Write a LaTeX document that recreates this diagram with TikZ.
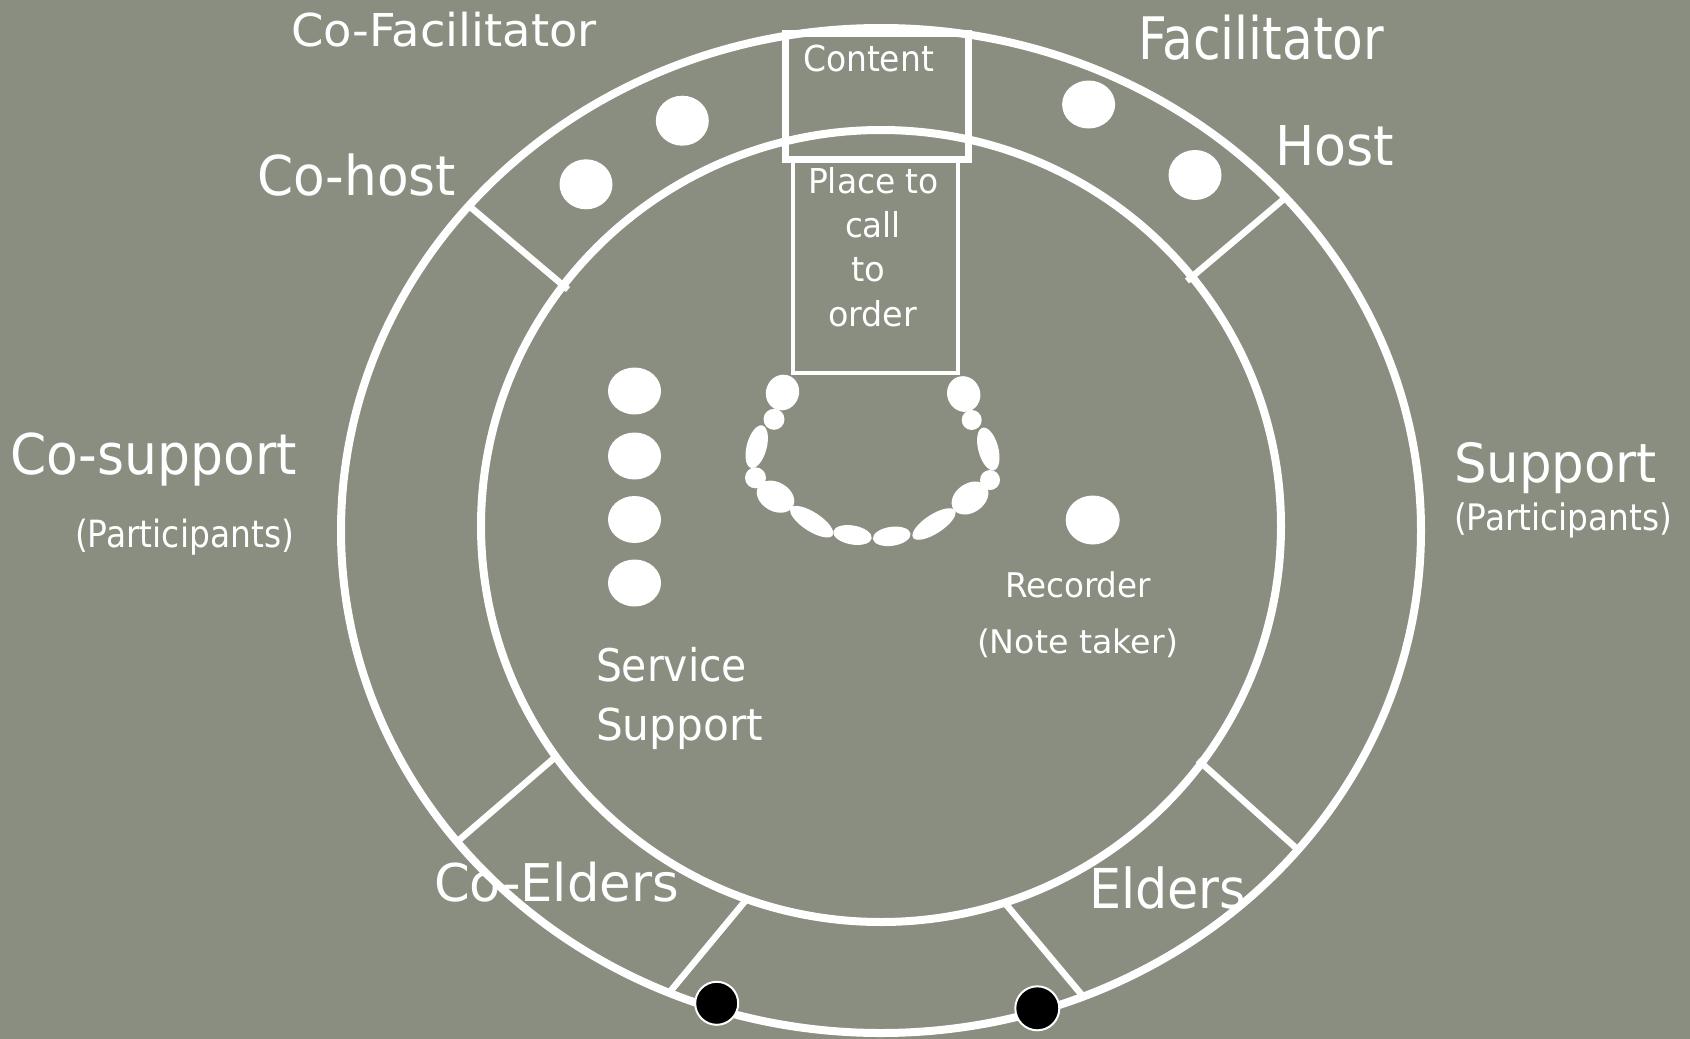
\documentclass[tikz,border=0pt]{standalone}
\usepackage{fontspec}
\setmainfont{DejaVu Sans}
\usepackage{graphicx}
\definecolor{bg}{RGB}{137,142,128}
\newcommand\lbl[3]{\resizebox{#1pt}{\height}{\fontsize{#2pt}{#2pt}\selectfont #3}}
\begin{document}
\begin{tikzpicture}[x=1pt,y=-1pt,
  ring/.style={draw=white, line width=8pt},
  divider/.style={draw=white, line width=6.5pt},
  seat/.style={fill=white},
  elder/.style={fill=black, draw=white, line width=2pt},
  lab/.style={anchor=base west, text=white, inner sep=0pt, outer sep=0pt}]
\useasboundingbox (0,0) rectangle (1690,1039);
\fill[bg] (0,0) rectangle (1690,1039);

% rings
\draw[ring] (881,530.5) ellipse [x radius=540pt, y radius=502.5pt];
\draw[ring] (881,526) ellipse [x radius=400pt, y radius=396pt];

% dividers
\draw[divider] (470,206.7) -- (568,289.5);
\draw[divider] (1284.7,198.3) -- (1187,281);
\draw[divider] (457,841.8) -- (556,756.5);
\draw[divider] (1298.7,850.4) -- (1198,760);
\draw[divider] (670,991.7) -- (746,900);
\draw[divider] (1083.3,996.7) -- (1004,902);

% boxes
\draw[white, line width=7pt] (785,33) rectangle (968,159);
\draw[white, line width=4.5pt] (793,160) rectangle (958,373);

% seats in outer ring
\fill[seat] (682.3,120.7) ellipse [x radius=26.5pt, y radius=25pt];
\fill[seat] (586,184.3) ellipse [x radius=26.5pt, y radius=25pt];
\fill[seat] (1088.6,104.5) ellipse [x radius=26.5pt, y radius=24pt];
\fill[seat] (1195,175) ellipse [x radius=26.5pt, y radius=25pt];

% service support seats
\foreach \yy in {391,456,519.5,583}
  \fill[seat] (634.5,\yy) ellipse [x radius=26.5pt, y radius=23.5pt];
% recorder
\fill[seat] (1092.7,520) ellipse [x radius=27pt, y radius=24.5pt];

% bead ring
\fill[seat, rotate around={-20:(782.5,392.5)}] (782.5,392.5) ellipse [x radius=16.5pt, y radius=18pt];
\fill[seat] (774,419.3) circle [radius=10.5pt];
\fill[seat, rotate around={-15:(756.7,446.7)}] (756.7,446.7) ellipse [x radius=10pt, y radius=22pt];
\fill[seat] (755.5,477.8) circle [radius=10.5pt];
\fill[seat, rotate around={-30:(775.5,496.7)}] (775.5,496.7) ellipse [x radius=20pt, y radius=14.5pt];
\fill[seat, rotate around={-33:(811.7,521.7)}] (811.7,521.7) ellipse [x radius=25pt, y radius=9.5pt];
\fill[seat, rotate around={-10:(852.5,535)}] (852.5,535) ellipse [x radius=19.5pt, y radius=9.5pt];
\fill[seat, rotate around={8:(891.7,536.3)}] (891.7,536.3) ellipse [x radius=19pt, y radius=9.5pt];
\fill[seat, rotate around={33:(934,524)}] (934,524) ellipse [x radius=25pt, y radius=9.5pt];
\fill[seat, rotate around={35:(970,498)}] (970,498) ellipse [x radius=20pt, y radius=14.5pt];
\fill[seat] (990,480) circle [radius=10pt];
\fill[seat, rotate around={15:(988.3,449)}] (988.3,449) ellipse [x radius=10pt, y radius=22pt];
\fill[seat] (971.7,420) circle [radius=10pt];
\fill[seat, rotate around={20:(963.7,394)}] (963.7,394) ellipse [x radius=16.5pt, y radius=18pt];

% elders seats
\draw[elder] (716.7,1003.3) circle [radius=21.5pt];
\draw[elder] (1037.3,1008.3) circle [radius=22pt];

% labels
\node[lab] (cofac) at (291,46.7) {\lbl{306}{45.3}{Co-Facilitator}};
\node[lab] (fac) at (1138,59.3) {\lbl{246}{58.6}{Facilitator}};
\node[lab] (cohost) at (257,195) {\lbl{199}{54.9}{Co-host}};
\node[lab] (host) at (1275,165) {\lbl{119}{54.9}{Host}};
\node[lab] (cosup) at (10,474) {\lbl{287}{56.2}{Co-support}};
\node[lab] (partl) at (75,547) {\lbl{219}{37.5}{(Participants)}};
\node[lab] (sup) at (1454,482) {\lbl{203}{54}{Support}};
\node[lab] (partr) at (1454,530) {\lbl{218}{36.5}{(Participants)}};
\node[lab] (rec) at (1005,597) {\lbl{146}{34}{Recorder}};
\node[lab] (note) at (977,653) {\lbl{201}{32.5}{(Note taker)}};
\node[lab] (serv) at (596,681.7) {\lbl{151}{45}{Service}};
\node[lab] (ssup) at (596,740) {\lbl{167}{44}{Support}};
\node[lab] (coeld) at (434,901.7) {\lbl{245}{52}{Co-Elders}};
\node[lab] (eld) at (1089,908) {\lbl{157}{55}{Elders}};
\node[lab] (content) at (803,71.7) {\lbl{131}{35.7}{Content}};
\node[lab] (pl1) at (808,193) {\lbl{131}{34.3}{Place to}};
\node[lab] (pl2) at (845,237.3) {\lbl{56}{34.3}{call}};
\node[lab] (pl3) at (851,281.7) {\lbl{34}{34.3}{to}};
\node[lab] (pl4) at (828,326.7) {\lbl{89}{34.3}{order}};
\end{tikzpicture}
\end{document}
